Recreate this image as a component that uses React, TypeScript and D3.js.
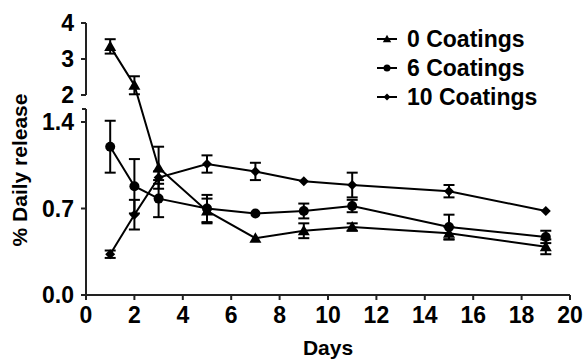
import React from "react";
import * as d3 from "d3";

const days = [1, 2, 3, 5, 7, 9, 11, 15, 19];
const c0 = [3.35, 2.27, 1.03, 0.68, 0.46, 0.52, 0.55, 0.5, 0.39];
const c0err = [0.2, 0.25, 0.17, 0.1, 0, 0.06, 0.03, 0.05, 0.06];
const c6 = [1.2, 0.88, 0.78, 0.7, 0.66, 0.68, 0.72, 0.55, 0.47];
const c6err = [0.21, 0.22, 0.15, 0.11, 0, 0.06, 0.05, 0.1, 0.05];
const c10 = [0.33, 0.65, 0.95, 1.06, 1.0, 0.92, 0.89, 0.84, 0.68];
const c10err = [0.03, 0.12, 0.05, 0.07, 0.07, 0, 0.1, 0.05, 0];
const seriesNames = ["0 Coatings", "6 Coatings", "10 Coatings"];
const xTicks = [0, 2, 4, 6, 8, 10, 12, 14, 16, 18, 20];
const lowerTicks = [0, 0.7, 1.4];
const upperTicks = [2, 3, 4];

const W = 584, H = 360;
const x = d3.scaleLinear().domain([0, 20]).range([86, 570]);
const yLow = d3.scaleLinear().domain([0, 1.4]).range([295, 122]);
const yUp = d3.scaleLinear().domain([2, 4]).range([95, 23]);
const y = (v: number) => (v >= 1.75 ? yUp(v) : yLow(v));
const font = "'Liberation Sans', Arial, Helvetica, sans-serif";

function Marker({ kind, cx, cy, s = 1 }: { kind: string; cx: number; cy: number; s?: number }) {
  if (kind === "tri") {
    const r = 6 * s;
    return <path d={`M${cx},${cy - r}L${cx + r},${cy + r * 0.75}L${cx - r},${cy + r * 0.75}Z`} fill="#000" />;
  }
  if (kind === "circ") return <circle cx={cx} cy={cy} r={5 * s} fill="#000" />;
  const r = 5 * s;
  return <path d={`M${cx},${cy - r}L${cx + r},${cy}L${cx},${cy + r}L${cx - r},${cy}Z`} fill="#000" />;
}

export default function App() {
  const series = [
    { name: seriesNames[0], vals: c0, err: c0err, kind: "tri" },
    { name: seriesNames[1], vals: c6, err: c6err, kind: "circ" },
    { name: seriesNames[2], vals: c10, err: c10err, kind: "dia" },
  ];
  const line = d3.line<number>().x((_, i) => x(days[i])).y((v) => y(v));
  return (
    <svg width={W} height={H} style={{ position: "absolute", left: 0, top: 0 }} fontFamily={font}>
      <g stroke="#222" strokeWidth={2} fill="none">
        <line x1={86} x2={86} y1={295} y2={109} />
        <line x1={82} x2={86} y1={109} y2={109} />
        <line x1={86} x2={86} y1={95} y2={23} />
        <line x1={86} x2={570} y1={295} y2={295} />
        {lowerTicks.map((t) => (
          <line key={"l" + t} x1={81} x2={86} y1={yLow(t)} y2={yLow(t)} />
        ))}
        {upperTicks.map((t) => (
          <line key={"u" + t} x1={81} x2={86} y1={yUp(t)} y2={yUp(t)} />
        ))}
        {xTicks.map((t) => (
          <line key={"x" + t} x1={x(t)} x2={x(t)} y1={295} y2={300} />
        ))}
      </g>
      <g fontSize={23} fontWeight="bold" fill="#000">
        {lowerTicks.map((t) => (
          <text key={"lt" + t} x={74} y={yLow(t)} dy="0.35em" textAnchor="end">{t.toFixed(1)}</text>
        ))}
        {upperTicks.map((t) => (
          <text key={"ut" + t} x={74} y={yUp(t)} dy="0.35em" textAnchor="end">{t}</text>
        ))}
        {xTicks.map((t) => (
          <text key={"xt" + t} x={x(t)} y={323} textAnchor="middle">{t}</text>
        ))}
        <text x={328} y={355} textAnchor="middle" fontSize={21}>Days</text>
        <text transform="translate(27,170) rotate(-90)" textAnchor="middle" fontSize={21}>% Daily release</text>
      </g>
      {series.map((s) => (
        <g key={s.name}>
          <path d={line(s.vals) || ""} stroke="#000" strokeWidth={2} fill="none" />
          {s.vals.map((v, i) =>
            s.err[i] > 0 ? (
              <g key={i} stroke="#000" strokeWidth={2}>
                <line x1={x(days[i])} x2={x(days[i])} y1={y(v + s.err[i])} y2={y(v - s.err[i])} />
                <line x1={x(days[i]) - 5.5} x2={x(days[i]) + 5.5} y1={y(v + s.err[i])} y2={y(v + s.err[i])} />
                <line x1={x(days[i]) - 5.5} x2={x(days[i]) + 5.5} y1={y(v - s.err[i])} y2={y(v - s.err[i])} />
              </g>
            ) : null
          )}
          {s.vals.map((v, i) => (
            <Marker key={"m" + i} kind={s.kind} cx={x(days[i])} cy={y(v)} />
          ))}
        </g>
      ))}
      {series.map((s, i) => (
        <g key={"lg" + i} transform={`translate(0,${39 + i * 29})`}>
          <line x1={377} x2={397} y1={0} y2={0} stroke="#000" strokeWidth={2} />
          <Marker kind={s.kind} cx={387} cy={0} s={0.7} />
          <text x={407} y={0} dy="0.35em" fontSize={23} fontWeight="bold">{s.name}</text>
        </g>
      ))}
    </svg>
  );
}
